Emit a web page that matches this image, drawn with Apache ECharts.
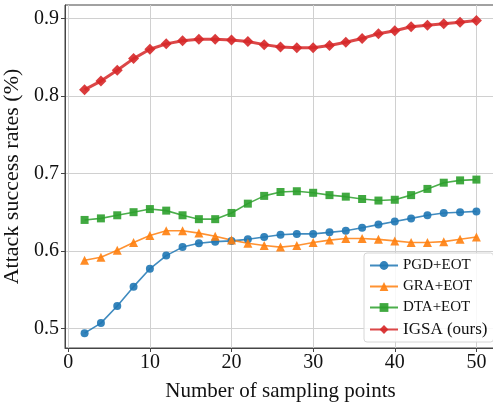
<!DOCTYPE html>
<html>
<head>
<meta charset="utf-8">
<script src="https://cdn.jsdelivr.net/npm/echarts@6/dist/echarts.min.js"></script>
<style>
  html, body { margin: 0; padding: 0; background: #fff; }
  #chart { width: 493px; height: 402px; }
</style>
</head>
<body>
<div id="chart"></div>
<script>
// sampling points on x
const samplingPoints = [2, 4, 6, 8, 10, 12, 14, 16, 18, 20, 22, 24, 26, 28, 30, 32, 34, 36, 38, 40, 42, 44, 46, 48, 50];

const pgdEot = [0.494, 0.507, 0.529, 0.554, 0.577, 0.594, 0.605, 0.610, 0.612, 0.613, 0.615, 0.618, 0.621, 0.622, 0.622, 0.624, 0.626, 0.630, 0.634, 0.638, 0.642, 0.646, 0.649, 0.650, 0.651];
const graEot = [0.588, 0.592, 0.601, 0.611, 0.620, 0.626, 0.626, 0.623, 0.619, 0.614, 0.610, 0.607, 0.605, 0.607, 0.611, 0.614, 0.616, 0.616, 0.615, 0.613, 0.611, 0.611, 0.612, 0.615, 0.618];
const dtaEot = [0.640, 0.642, 0.646, 0.650, 0.654, 0.652, 0.646, 0.641, 0.641, 0.649, 0.661, 0.671, 0.676, 0.677, 0.675, 0.672, 0.670, 0.667, 0.665, 0.666, 0.672, 0.680, 0.688, 0.691, 0.692];
const igsa = [0.808, 0.819, 0.833, 0.848, 0.860, 0.867, 0.871, 0.873, 0.873, 0.872, 0.870, 0.866, 0.863, 0.862, 0.862, 0.865, 0.869, 0.874, 0.880, 0.884, 0.889, 0.891, 0.893, 0.895, 0.897];

const xTicks = [0, 10, 20, 30, 40, 50];
const yTicks = [0.5, 0.6, 0.7, 0.8, 0.9];

const serif = '"Liberation Serif", "DejaVu Serif", serif';

function pairs(vals) {
  return samplingPoints.map((x, i) => [x, vals[i]]);
}

function makeSeries(name, vals, color, symbol, size, width, z) {
  return {
    name: name,
    type: 'line',
    data: pairs(vals),
    symbol: symbol,
    symbolSize: size,
    z: z,
    lineStyle: { color: color, width: width, opacity: 0.85 },
    itemStyle: { color: color, opacity: 0.9 },
    emphasis: { disabled: true },
    animation: false
  };
}

const chart = echarts.init(document.getElementById('chart'));
const option = {
  backgroundColor: '#fff',
  animation: false,
  grid: {
    left: 65,
    top: 5,
    width: 431,
    height: 343,
    containLabel: false,
    outerBoundsMode: 'none',
    show: true,
    borderColor: '#444',
    borderWidth: 1,
    backgroundColor: 'transparent'
  },
  xAxis: {
    type: 'value',
    min: -0.4,
    max: 52.4,
    name: 'Number of sampling points',
    nameLocation: 'middle',
    nameGap: 33,
    nameTextStyle: { fontFamily: serif, fontSize: 21, color: '#111' },
    axisLine: { show: true, onZero: false, lineStyle: { color: '#444', width: 1 } },
    axisTick: { show: true, length: 4, inside: false, customValues: xTicks, lineStyle: { color: '#444' } },
    axisLabel: { customValues: xTicks, fontFamily: serif, fontSize: 20, color: '#111', margin: 5 },
    splitLine: { show: true, lineStyle: { color: '#d0d0d0', width: 1 } }
  },
  yAxis: {
    type: 'value',
    min: 0.4749,
    max: 0.9171,
    name: 'Attack success rates (%)',
    nameLocation: 'middle',
    nameGap: 41,
    nameTextStyle: { fontFamily: serif, fontSize: 22, color: '#111' },
    axisLine: { show: true, onZero: false, lineStyle: { color: '#444', width: 1 } },
    axisTick: { show: true, length: 4, customValues: yTicks, lineStyle: { color: '#444' } },
    axisLabel: {
      customValues: yTicks,
      fontFamily: serif, fontSize: 20, color: '#111', margin: 6,
      formatter: v => v.toFixed(1)
    },
    splitLine: { show: true, lineStyle: { color: '#d0d0d0', width: 1 } }
  },
  legend: {
    orient: 'vertical',
    left: 364,
    top: 253,
    padding: [5, 6, 4, 5],
    itemWidth: 28,
    itemHeight: 11,
    itemGap: 6,
    backgroundColor: 'rgba(255,255,255,0.85)',
    borderColor: '#d6d6d6',
    borderWidth: 1,
    borderRadius: 3,
    textStyle: {
      fontFamily: serif, fontSize: 15, color: '#111',
      rich: { big: { fontFamily: serif, fontSize: 17, color: '#111' } }
    },
    formatter: name => name === 'IGSA (ours)' ? '{big|' + name + '}' : name,
    data: ['PGD+EOT', 'GRA+EOT', 'DTA+EOT', 'IGSA (ours)']
  },
  series: [
    makeSeries('PGD+EOT', pgdEot, '#1f77b4', 'circle', 8, 1.6, 2),
    makeSeries('GRA+EOT', graEot, '#ff7f0e', 'triangle', 9, 1.6, 2),
    makeSeries('DTA+EOT', dtaEot, '#2ca02c', 'rect', 8, 1.6, 2),
    makeSeries('IGSA (ours)', igsa, '#d62728', 'diamond', 11, 3, 3)
  ]
};
chart.setOption(option);
</script>
</body>
</html>
